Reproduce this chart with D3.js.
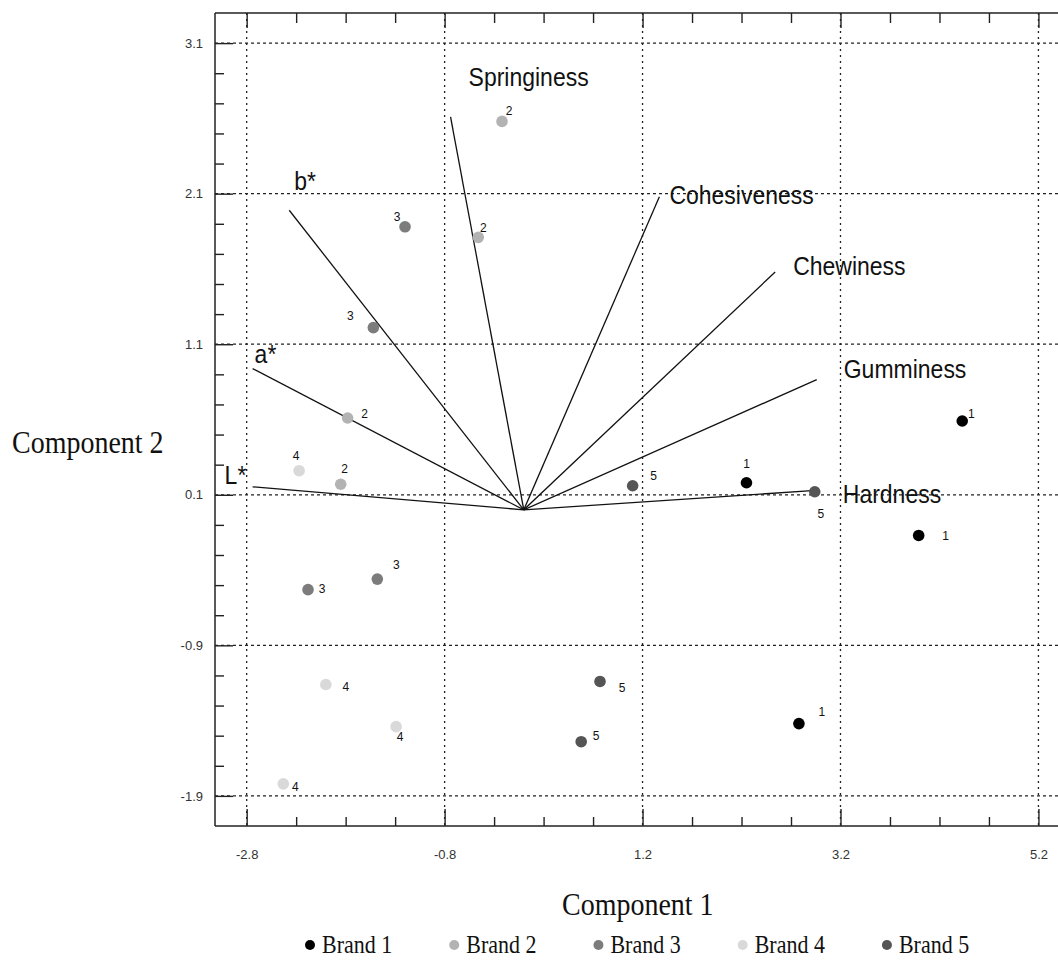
<!DOCTYPE html>
<html>
<head>
<meta charset="utf-8">
<script src="https://cdn.jsdelivr.net/npm/d3@7"></script>
<style>
  html, body { margin: 0; padding: 0; background: #fff; overflow: hidden; }
  svg { display: block; overflow: hidden; }
</style>
</head>
<body>
<svg id="chart" width="1058" height="962"></svg>
<script>
// ---------------- DATA ----------------
const brands = ["Brand 1", "Brand 2", "Brand 3", "Brand 4", "Brand 5"];
const brandColors = ["#000000", "#b3b3b3", "#7c7c7c", "#d9d9d9", "#555555"];

// sample scores (4 samples per brand)
const sampleBrand = [1,1,1,1, 2,2,2,2, 3,3,3,3, 4,4,4,4, 5,5,5,5];
const comp1 = [4.43, 2.25, 3.99, 2.78,
               -0.22, -0.46, -1.78, -1.85,
               -1.20, -1.52, -1.48, -2.18,
               -2.27, -2.00, -1.29, -2.43,
               1.10, 2.94, 0.77, 0.58];
const comp2 = [0.59, 0.18, -0.17, -1.42,
               2.58, 1.81, 0.61, 0.17,
               1.88, 1.21, -0.46, -0.53,
               0.26, -1.16, -1.44, -1.82,
               0.16, 0.12, -1.14, -1.54];

// variable loadings (biplot vectors)
const variables = ["Springiness", "Cohesiveness", "Chewiness", "Gumminess", "Hardness", "L*", "a*", "b*"];
const load1 = [-0.74, 1.37, 2.54, 2.96, 2.91, -2.74, -2.74, -2.37];
const load2 = [2.61, 2.08, 1.58, 0.865, 0.127, 0.153, 0.938, 1.99];

// axis ticks
const xMajorTicks = [-2.8, -0.8, 1.2, 3.2, 5.2];
const yMajorTicks = [3.1, 2.1, 1.1, 0.1, -0.9, -1.9];
const xTitle = "Component 1";
const yTitle = "Component 2";

// ---------------- LAYOUT (annotation nudges, px) ----------------
const pointLabelNudge = [
  [9,-8],[0,-19],[27,0],[23,-12],
  [7,-11],[5,-10],[17,-4],[4,-16],
  [-8,-10],[-23,-12],[19,-15],[14,-1],
  [-3,-15],[20,2],[4,10],[12,3],
  [21,-10],[6,22],[22,6],[15,-6]
];
const varLabelNudge = [[18,-31],[10,7],[18,3],[27,-2],[31,12],[-28,-3],[2,-6],[5,-20]];

// ---------------- CHART ----------------
const svg = d3.select("#chart");
const sans = "'Liberation Sans', Arial, sans-serif";
const serif = "'Liberation Serif', 'Times New Roman', serif";
const pLeft = 215, pRight = 1080, pTop = 13, pBottom = 826;

const x = d3.scaleLinear().domain([-3.12, 5.62]).range([pLeft, pRight]);
const y = d3.scaleLinear().domain([-2.1, 3.3]).range([pBottom, pTop]);
const fmt = d => d3.format(".1f")(d).replace("\u2212", "-");

const xMinor = d3.range(-2.8, 5.7, 0.5).map(v => +v.toFixed(2)).filter(v => !xMajorTicks.some(m => Math.abs(m - v) < 1e-6) && v > -3.12 && v < 5.62);
const yMinor = d3.range(-2.1, 3.31, 0.2).map(v => +v.toFixed(2)).filter(v => !yMajorTicks.some(m => Math.abs(m - v) < 1e-6) && v > -2.1 && v < 3.3);

// gridlines
svg.append("g").selectAll("line").data(xMajorTicks).join("line")
  .attr("x1", d => x(d)).attr("x2", d => x(d))
  .attr("y1", pTop).attr("y2", pBottom)
  .attr("stroke", "#222").attr("stroke-width", 1.3).attr("stroke-dasharray", "2,4");
svg.append("g").selectAll("line").data(yMajorTicks).join("line")
  .attr("x1", pLeft).attr("x2", pRight)
  .attr("y1", d => y(d)).attr("y2", d => y(d))
  .attr("stroke", "#222").attr("stroke-width", 1.3).attr("stroke-dasharray", "3,3");

function styleAxis(g) {
  g.select(".domain").remove();
  g.attr("font-size", null).attr("font-family", null);
  g.selectAll(".tick line").attr("stroke", "#222").attr("stroke-width", 1.4);
  g.selectAll("text").style("font-family", sans).style("font-size", "13px").attr("fill", "#333");
}

// bottom axis
svg.append("g").attr("transform", `translate(0,${pBottom})`)
  .call(d3.axisBottom(x).tickValues(xMajorTicks).tickSizeInner(-17).tickSizeOuter(0).tickPadding(24).tickFormat(fmt))
  .call(styleAxis);
svg.append("g").attr("transform", `translate(0,${pBottom})`)
  .call(d3.axisBottom(x).tickValues(xMinor).tickSizeInner(-9).tickSizeOuter(0).tickFormat(""))
  .call(styleAxis);
// top axis
svg.append("g").attr("transform", `translate(0,${pTop})`)
  .call(d3.axisTop(x).tickValues(xMajorTicks).tickSizeInner(-15).tickSizeOuter(0).tickFormat(""))
  .call(styleAxis);
svg.append("g").attr("transform", `translate(0,${pTop})`)
  .call(d3.axisTop(x).tickValues(xMinor).tickSizeInner(-10).tickSizeOuter(0).tickFormat(""))
  .call(styleAxis);
// left axis
svg.append("g").attr("transform", `translate(${pLeft},0)`)
  .call(d3.axisLeft(y).tickValues(yMajorTicks).tickSizeInner(-18).tickSizeOuter(0).tickPadding(12).tickFormat(fmt))
  .call(styleAxis);
svg.append("g").attr("transform", `translate(${pLeft},0)`)
  .call(d3.axisLeft(y).tickValues(yMinor).tickSizeInner(-9).tickSizeOuter(0).tickFormat(""))
  .call(styleAxis);

// frame (left, top, bottom; right edge lies beyond the picture)
const frame = svg.append("g").attr("stroke", "#222").attr("stroke-width", 1.5);
frame.append("line").attr("x1", pLeft).attr("x2", pLeft).attr("y1", pTop).attr("y2", pBottom);
frame.append("line").attr("x1", pLeft).attr("x2", pRight).attr("y1", pTop).attr("y2", pTop);
frame.append("line").attr("x1", pLeft).attr("x2", pRight).attr("y1", pBottom).attr("y2", pBottom);

// biplot vectors
const vecG = svg.append("g");
variables.forEach((v, i) => {
  vecG.append("line")
    .attr("x1", x(0)).attr("y1", y(0))
    .attr("x2", x(load1[i])).attr("y2", y(load2[i]))
    .attr("stroke", "#111").attr("stroke-width", 1.3);
  vecG.append("text")
    .attr("transform", `translate(${x(load1[i]) + varLabelNudge[i][0]},${y(load2[i]) + varLabelNudge[i][1]}) scale(1,1.12)`)
    .attr("font-family", sans).attr("font-size", 23).attr("fill", "#111")
    .text(v);
});

// points
const ptG = svg.append("g");
comp1.forEach((c, i) => {
  const b = sampleBrand[i];
  ptG.append("circle")
    .attr("cx", x(c)).attr("cy", y(comp2[i])).attr("r", 5.8)
    .attr("fill", brandColors[b - 1]);
  ptG.append("text")
    .attr("x", x(c) + pointLabelNudge[i][0])
    .attr("y", y(comp2[i]) + pointLabelNudge[i][1] + 4.5)
    .attr("text-anchor", "middle")
    .attr("font-family", sans).attr("font-size", 12).attr("fill", "#111")
    .text(b);
});

// axis titles
svg.append("text")
  .attr("transform", "translate(562,915) scale(1,1.12)")
  .attr("font-family", serif).attr("font-size", 28).attr("fill", "#111")
  .text(xTitle);
svg.append("text")
  .attr("transform", "translate(12,453) scale(1,1.12)")
  .attr("font-family", serif).attr("font-size", 28).attr("fill", "#111")
  .text(yTitle);

// legend
const legG = svg.append("g");
let cx = 310;
brands.forEach((b, i) => {
  legG.append("circle").attr("cx", cx).attr("cy", 945).attr("r", 5).attr("fill", brandColors[i]);
  const t = legG.append("text")
    .attr("transform", `translate(${cx + 12},953) scale(1,1.12)`)
    .attr("font-family", serif).attr("font-size", 22).attr("fill", "#111")
    .text(b);
  const w = t.node().getComputedTextLength();
  cx = cx + 12 + w + 62;
});
</script>
</body>
</html>
